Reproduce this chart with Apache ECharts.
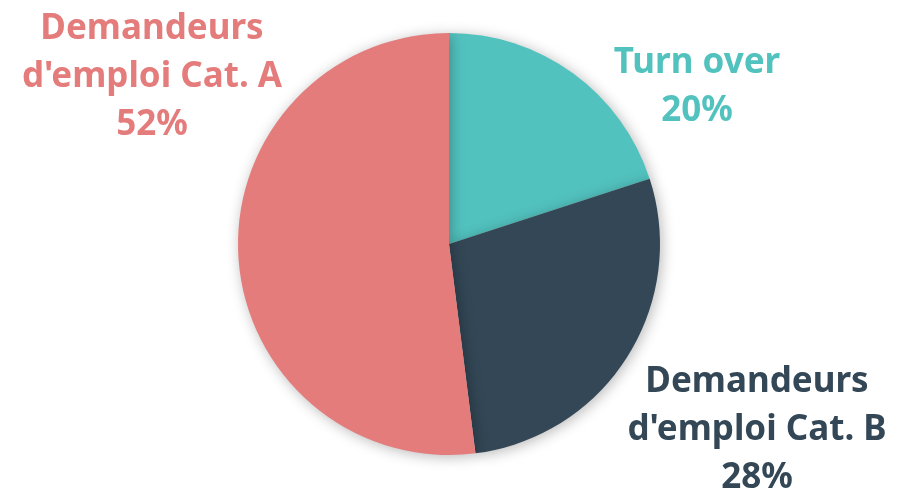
<!DOCTYPE html>
<html><head><meta charset="utf-8">
<script src="https://cdn.jsdelivr.net/npm/echarts@6/dist/echarts.min.js"></script>
<style>html,body{margin:0;padding:0;background:#fff}#c{width:897px;height:492px}</style>
</head><body><div id="c"></div>
<script>
const categories = ["Turn over", "Demandeurs\nd'emploi Cat. B", "Demandeurs\nd'emploi Cat. A"];
const values = [20, 28, 52];
const colors = ["#52C2BF", "#334756", "#E47C7C"];
const labelPos = [[697, 87], [757, 430], [152, 77]];

const chart = echarts.init(document.getElementById('c'));
chart.setOption({
  animation: false,
  series: [{
    type: 'pie',
    center: [449, 244],
    radius: [0, 211],
    startAngle: 90,
    clockwise: true,
    data: categories.map((n, i) => ({name: n, value: values[i], itemStyle: {color: colors[i]},
      label: {color: colors[i]}})),
    itemStyle: {shadowBlur: 14, shadowColor: 'rgba(0,0,0,0.28)', shadowOffsetX: 2, shadowOffsetY: 2},
    label: {
      show: true, position: 'outside', overflow: 'none', width: 400,
      formatter: p => p.name + '\n' + p.value + '%',
      fontFamily: 'Noto Sans', fontWeight: 'bold', fontSize: 35, lineHeight: 48, align: 'center'
    },
    labelLine: {show: false},
    labelLayout: p => ({x: labelPos[p.dataIndex][0], y: labelPos[p.dataIndex][1], align: 'center', verticalAlign: 'middle'}),
    emphasis: {disabled: true}
  }]
});
</script></body></html>
